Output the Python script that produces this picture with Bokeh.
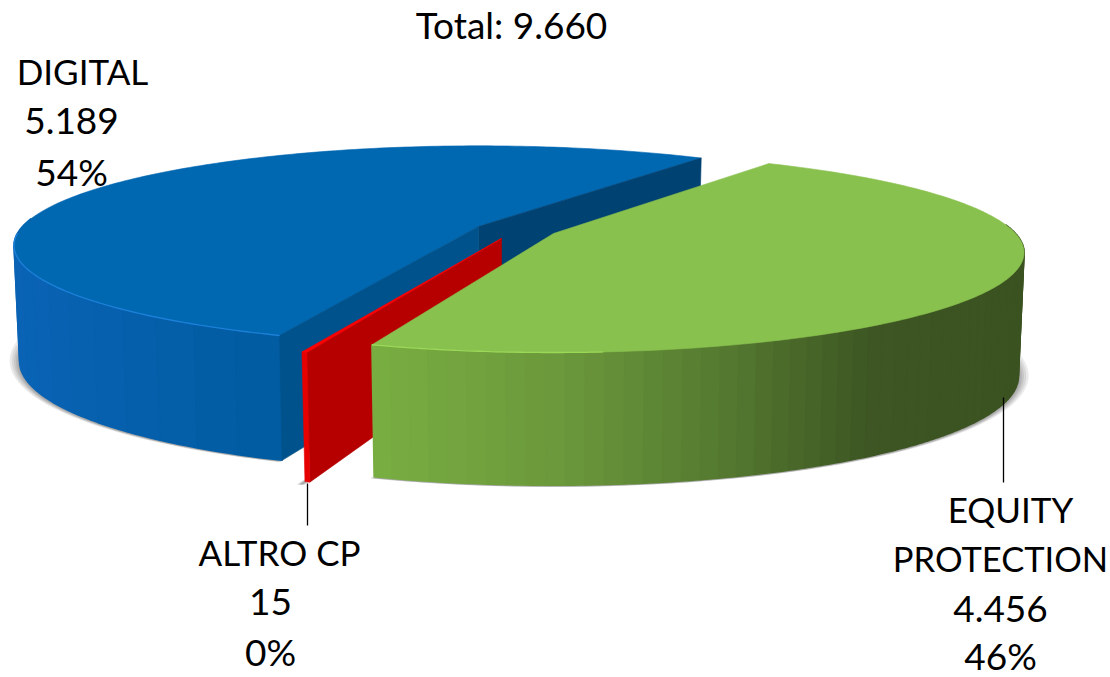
import math
from bokeh.plotting import figure
from bokeh.models import Range1d
from bokeh.core.properties import value
from bokeh.embed import file_html
from bokeh.resources import INLINE

# ---- chart values ----
categories = ["DIGITAL", "ALTRO CP", "EQUITY PROTECTION"]
amounts = [5189, 15, 4456]
total_label = "Total: 9.660"
digital_label = ["DIGITAL", "5.189", "54%"]
altro_label = ["ALTRO CP", "15", "0%"]
equity_label = ["EQUITY", "PROTECTION", "4.456", "46%"]

# ---- 3D projection of each exploded slice (in reference pixels) ----
TOTAL = sum(amounts)
SWEEP = [360.0 * v / TOTAL for v in amounts]
GEOM = {
    "DIGITAL": dict(cx=478, cy=226, A=456, B=96, k=0.19, sc=0.988, h0=114, h1=0.10, start=55.6),
    "ALTRO CP": dict(cx=501, cy=238, A=456, B=100, k=0.19, sc=0.985, h0=107, h1=0.20, start=248.9),
    "EQUITY PROTECTION": dict(cx=553, cy=233, A=462, B=96.4, k=0.19, sc=0.988, h0=122, h1=0.09, start=251.2),
}

def top(g, deg):
    t = math.radians(deg)
    w = 1 + g["k"] * math.sin(t)
    return g["cx"] + g["A"] * math.cos(t) / w, g["cy"] - g["B"] * math.sin(t) / w

def base(g, deg):
    x, y = top(g, deg)
    dy = y - g["cy"]
    return g["cx"] + g["sc"] * (x - g["cx"]), y + g["h0"] + g["h1"] * dy

def apex_top(g):
    return g["cx"], g["cy"]

def apex_base(g):
    return g["cx"], g["cy"] + g["h0"]

def arc(fn, g, a, b, n):
    return [fn(g, a + (b - a) * i / n) for i in range(n + 1)]

def hexrgb(c):
    return [int(c[i:i + 2], 16) for i in (1, 3, 5)]

def ramp(stops, x):
    if x <= stops[0][0]:
        return stops[0][1]
    for (x0, c0), (x1, c1) in zip(stops, stops[1:]):
        if x <= x1:
            f = (x - x0) / (x1 - x0)
            a, b = hexrgb(c0), hexrgb(c1)
            return "#%02x%02x%02x" % tuple(round(a[i] + (b[i] - a[i]) * f) for i in range(3))
    return stops[-1][1]

BLUE_WALL = [(14, "#0a63b5"), (284, "#005b9f")]
GREEN_WALL = [(373, "#79ae42"), (570, "#6a973b"), (720, "#557a30"), (870, "#3d5623"), (1025, "#3b5221")]

p = figure(width=1110, height=677, output_backend="svg", toolbar_location=None,
           x_range=Range1d(0, 1110), y_range=Range1d(677, 0), min_border=0)
p.axis.visible = False
p.grid.visible = False
p.outline_line_color = None
p.background_fill_color = "#ffffff"
p.border_fill_color = "#ffffff"


def poly(pts, color, alpha=1.0):
    p.patch([q[0] for q in pts], [q[1] for q in pts], fill_color=color, line_color=color if alpha == 1.0 else None,
            line_width=0.6, fill_alpha=alpha, line_alpha=alpha)


def wall(g, a, b, stops, step):
    n = max(1, int(abs(b - a) / step))
    xs, ys, cols = [], [], []
    for i in range(n):
        t0 = a + (b - a) * i / n
        t1 = a + (b - a) * (i + 1) / n
        if math.sin(math.radians((t0 + t1) / 2)) > 0.08:
            continue
        pts = arc(top, g, t0, t1, 4) + arc(base, g, t1, t0, 4)
        xs.append([q[0] for q in pts])
        ys.append([q[1] for q in pts])
        cols.append(ramp(stops, sum(q[0] for q in pts) / len(pts)))
    p.patches(xs, ys, fill_color=cols, line_color=cols, line_width=1.6)


# slice angle ranges derived from the values
gD, gA, gE = GEOM["DIGITAL"], GEOM["ALTRO CP"], GEOM["EQUITY PROTECTION"]
d0, d1 = gD["start"], gD["start"] + SWEEP[0]
a0, a1 = gA["start"], gA["start"] + SWEEP[1]
e0, e1 = gE["start"], gE["start"] + SWEEP[2]

# soft drop shadows
for g, s, e in ((gD, d0, d1), (gA, a0, a1), (gE, e0, e1)):
    ends = arc(base, g, s, e, 90)
    bx, by = apex_base(g)
    for f, lift in ((1.022, 5), (1.017, 4), (1.012, 3), (1.008, 2), (1.004, 1)):
        pts = [(bx + (x - bx) * f, by + (y - by) * f + 1.5 - lift * 0.5) for x, y in ends]
        if g is gA:
            pts = [(x - 4, y + 1) for x, y in pts]
        pts.append((bx, by))
        poly(pts, "#000000", 0.08)

# DIGITAL
wall(gD, 170, d1, BLUE_WALL, 5)
poly([apex_top(gD)] + arc(top, gD, d0, d1, 200), "#0067b1")
poly([apex_top(gD), top(gD, d0), base(gD, d0), apex_base(gD)], "#004272")
poly([apex_top(gD), top(gD, d1), base(gD, d1), apex_base(gD)], "#00528c")
rim = arc(top, gD, 184, d1, 60)
p.line([q[0] for q in rim], [q[1] for q in rim], line_color="#1c80d8", line_width=1.4)

# ALTRO CP
poly([apex_top(gA), top(gA, a1), base(gA, a1), apex_base(gA)], "#b60000")
poly([top(gA, a0), top(gA, a1), base(gA, a1), base(gA, a0)], "#e60000")
poly([apex_top(gA), top(gA, a0), top(gA, a1)], "#ff0000")

# EQUITY PROTECTION
wall(gE, e0, e1, GREEN_WALL, 2)
poly([apex_top(gE)] + arc(top, gE, e0, e1, 180), "#89c14f")
rim = arc(top, gE, e0, 275, 40)
p.line([q[0] for q in rim], [q[1] for q in rim], line_color="#9bd858", line_width=1.3)

# leader lines
p.line([1003, 1003], [397, 482], line_color="#000000", line_width=1.3)
p.line([307, 307], [483, 525], line_color="#000000", line_width=1.3)


def label(lines, centers, ys, sizes):
    for t, x, y, s in zip(lines, centers, ys, sizes):
        p.text([x], [y], text=[t], text_font=value("Lato"), text_font_size=value(s),
               text_color="#000000", text_align="center", text_baseline="middle")


label([total_label], [511], [24], ["37px"])
label(digital_label, [82, 71, 71], [70, 120, 171], ["35px", "37px", "37px"])
label(altro_label, [279, 270, 270], [551, 601, 651], ["35px", "37px", "37px"])
label(equity_label, [1010, 1000, 1000, 1000], [508, 558, 608, 655], ["35px", "34.5px", "37px", "37px"])

open("out.html", "w").write(file_html(p, INLINE))
